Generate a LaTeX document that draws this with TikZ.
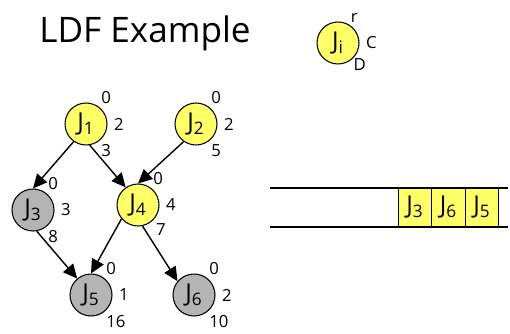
\documentclass[tikz,border=0pt]{standalone}
\usepackage{fontspec}
\setmainfont{Open Sans}
\usepackage{xcolor}
\usepackage{tikz}
\usetikzlibrary{arrows.meta}

\definecolor{jobyellow}{RGB}{255,255,102}
\definecolor{jobgray}{RGB}{180,180,180}

\tikzset{
	job/.style={circle,draw,line width=0.6pt,minimum size=0.84cm,inner sep=0pt,font=\fontsize{14}{16}\selectfont},
	lab/.style={inner sep=1.5pt,font=\fontsize{9.5}{11}\selectfont},
	slot/.style={draw,fill=jobyellow,line width=0.6pt,minimum width=0.67cm,minimum height=0.78cm,inner sep=0pt,font=\fontsize{14}{16}\selectfont}
}

\begin{document}
\begin{tikzpicture}[x=0.02cm,y=-0.02cm]
		\useasboundingbox (0,0) rectangle (510,334);
		%
		\node[font=\fontsize{20}{24}\selectfont] (title) at (145,33) {LDF Example};
		\node[job,fill=jobyellow,label={[lab,label distance=-1pt]60:r},label={[lab,label distance=2pt]0:C},label={[lab,label distance=-2pt]-45:D}] (Ji) at (338,43) {J\textsubscript{i}};
		%
		\node[job,fill=jobyellow,label={[lab]55:0},label={[lab,label distance=2pt]0:2},label={[lab]-55:3}] (J1) at (86,124) {J\textsubscript{1}};
		\node[job,fill=jobyellow,label={[lab]55:0},label={[lab,label distance=2pt]0:2},label={[lab]-55:5}] (J2) at (196,124) {J\textsubscript{2}};
		\node[job,fill=jobgray,label={[lab]55:0},label={[lab,label distance=2pt]0:3},label={[lab]-55:8}] (J3) at (33,210) {J\textsubscript{3}};
		\node[job,fill=jobyellow,label={[lab]55:0},label={[lab,label distance=2pt]0:4},label={[lab]-45:7}] (J4) at (138,205) {J\textsubscript{4}};
		\node[job,fill=jobgray,label={[lab]55:0},label={[lab,label distance=2pt]0:1},label={[lab]-55:16}] (J5) at (91,295) {J\textsubscript{5}};
		\node[job,fill=jobgray,label={[lab]55:0},label={[lab,label distance=2pt]0:2},label={[lab]-55:10}] (J6) at (194,295) {J\textsubscript{6}};
		%
		\path[-{Triangle[length=8pt,width=7.5pt]},line width=0.8pt]
		(J1.-125) edge (J3.north)
		(J1.-80) edge (J4.125)
		(J2.-125) edge (J4.north)
		(J3.-80) edge (J5.130)
		(J4.-140) edge (J5.north)
		(J4.-78) edge (J6.140);
		%
		\coordinate (qa) at (270,188);
		\coordinate (qb) at (508,188);
		\coordinate (qc) at (270,227);
		\coordinate (qd) at (508,227);
		\draw[line width=0.9pt] (qa) -- (qb) (qc) -- (qd);
		\node[slot] (q1) at (415,207.5) {J\textsubscript{3}};
		\node[slot] (q2) at (448.5,207.5) {J\textsubscript{6}};
		\node[slot] (q3) at (482,207.5) {J\textsubscript{5}};
		\end{tikzpicture}
\end{document}
